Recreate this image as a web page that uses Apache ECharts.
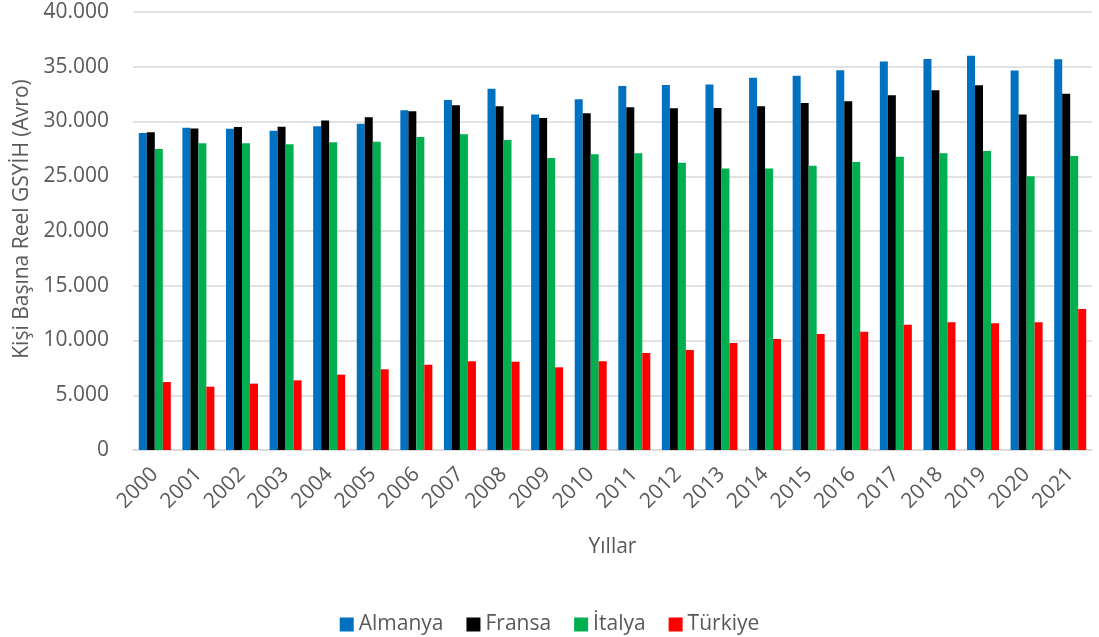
<!DOCTYPE html>
<html>
<head>
<meta charset="utf-8">
<script src="https://cdn.jsdelivr.net/npm/echarts@6/dist/echarts.min.js"></script>
<style>
html,body{margin:0;padding:0;background:#fff;}
#chart{width:1099px;height:637px;}
</style>
</head>
<body>
<div id="chart"></div>
<script>
const years = ['2000','2001','2002','2003','2004','2005','2006','2007','2008','2009','2010','2011','2012','2013','2014','2015','2016','2017','2018','2019','2020','2021'];
const almanya = [28950,29430,29340,29160,29560,29800,31020,31960,33000,30650,32030,33240,33330,33390,33990,34180,34670,35490,35710,36010,34660,35680];
const fransa  = [29010,29370,29500,29530,30100,30380,30930,31480,31390,30320,30750,31290,31200,31230,31390,31690,31840,32390,32850,33300,30650,32540];
const italya  = [27490,28010,28010,27920,28100,28160,28580,28830,28310,26670,27000,27090,26240,25700,25700,25970,26300,26790,27090,27310,25000,26850];
const turkiye = [6210,5780,6060,6360,6880,7370,7790,8100,8070,7550,8100,8860,9130,9770,10140,10590,10800,11440,11660,11570,11660,12880];
const seriesNames = ['Almanya','Fransa','İtalya','Türkiye'];
const colors = ['#0070C0','#000000','#00B050','#FF0000'];

const fontFamily = '"Open Sans", "Noto Sans", sans-serif';
const textColor = '#595959';
const fmt = v => String(v).replace(/\B(?=(\d{3})+(?!\d))/g, '.');

const dataSets = [almanya, fransa, italya, turkiye];
const chart = echarts.init(document.getElementById('chart'), null, {renderer: 'canvas'});
chart.setOption({
  animation: false,
  backgroundColor: '#ffffff',
  textStyle: {fontFamily: fontFamily},
  grid: {left: 133, right: 7, top: 12, bottom: 187, containLabel: false},
  legend: {
    data: seriesNames,
    left: 'center',
    top: 609,
    itemWidth: 14,
    itemHeight: 14,
    itemGap: 23,
    icon: 'rect',
    textStyle: {fontFamily: fontFamily, fontSize: 21, color: textColor}
  },
  xAxis: {
    type: 'category',
    data: years,
    name: 'Yıllar',
    nameLocation: 'middle',
    nameGap: 87,
    nameTextStyle: {fontFamily: fontFamily, fontSize: 21, color: textColor},
    axisLine: {show: true, lineStyle: {color: '#D9D9D9', width: 1.5}},
    axisTick: {show: false},
    axisLabel: {rotate: 45, margin: 21, fontFamily: fontFamily, fontSize: 21, color: textColor, interval: 0}
  },
  yAxis: {
    type: 'value',
    min: 0,
    max: 40000,
    interval: 5000,
    name: 'Kişi Başına Reel GSYİH (Avro)',
    nameLocation: 'middle',
    nameGap: 100,
    nameRotate: 90,
    nameTextStyle: {fontFamily: fontFamily, fontSize: 21, color: textColor, padding: [0, 0, 0, 24]},
    axisLine: {show: false},
    axisTick: {show: false},
    axisLabel: {margin: 24, fontFamily: fontFamily, fontSize: 21, color: textColor, formatter: fmt},
    splitLine: {show: true, lineStyle: {color: '#D9D9D9', width: 1.5}}
  },
  series: seriesNames.map((n, i) => ({
    name: n,
    type: 'bar',
    data: dataSets[i],
    barWidth: 8,
    barGap: '0%',
    itemStyle: {color: colors[i]}
  }))
});
</script>
</body>
</html>
